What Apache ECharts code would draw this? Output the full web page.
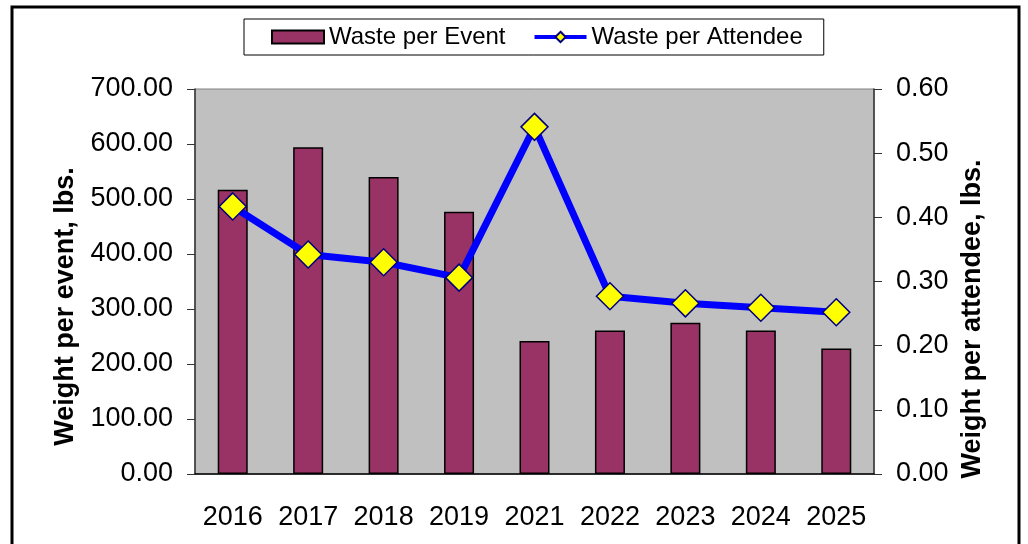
<!DOCTYPE html>
<html>
<head>
<meta charset="utf-8">
<title>Waste per Event / per Attendee</title>
<script src="https://cdn.jsdelivr.net/npm/echarts@6.0.0/dist/echarts.min.js"></script>
<style>
  html, body { margin: 0; padding: 0; background: #fff; }
  #chart { width: 1028px; height: 544px; }
</style>
</head>
<body>
<div id="chart"></div>
<script>
// data
const years = ["2016", "2017", "2018", "2019", "2021", "2022", "2023", "2024", "2025"];
const wastePerEvent = [517, 594, 540, 477, 242, 261, 275, 261, 228];
const wastePerAttendee = [0.417, 0.342, 0.33, 0.306, 0.541, 0.277, 0.266, 0.259, 0.252];

const FONT = "Liberation Sans, Arial, sans-serif";

const chart = echarts.init(document.getElementById("chart"));

const option = {
  backgroundColor: "#fff",
  animation: false,
  // outer chart frame
  graphic: [
    {
      type: "rect",
      silent: true,
      shape: { x: 12, y: 7, width: 1007, height: 600 },
      style: { fill: "none", stroke: "#000", lineWidth: 3 },
    },
  ],
  legend: {
    left: 244,
    top: 19,
    padding: [6, 21, 6, 27],
    itemGap: 27,
    itemWidth: 52,
    itemHeight: 13,
    borderColor: "#000",
    borderWidth: 1,
    textStyle: { fontFamily: FONT, fontSize: 24, color: "#000" },
    data: [
      { name: "Waste per Event", icon: "rect" },
      { name: "Waste per Attendee", lineStyle: { width: 4 } },
    ],
  },
  grid: {
    left: 195,
    right: 154,
    top: 89,
    bottom: 70,
    show: true,
    backgroundColor: "#C0C0C0",
    borderColor: "#808080",
    borderWidth: 1,
  },
  xAxis: {
    type: "category",
    data: years,
    axisLine: { lineStyle: { color: "#000", width: 1.5 } },
    axisTick: { length: 8, lineStyle: { color: "#000" } },
    axisLabel: { interval: 0, fontFamily: FONT, fontSize: 27, color: "#000", margin: 30 },
  },
  yAxis: [
    {
      type: "value",
      min: 0,
      max: 700,
      interval: 100,
      name: "Weight per event, lbs.",
      nameLocation: "middle",
      nameRotate: 90,
      nameGap: 111,
      nameTextStyle: {
        fontFamily: FONT,
        fontSize: 27,
        fontWeight: "bold",
        color: "#000",
        padding: [0, 50, 0, 0],
      },
      axisLine: { show: true, lineStyle: { color: "#333", width: 1.5 } },
      axisTick: { show: true, length: 8, lineStyle: { color: "#333" } },
      axisLabel: {
        fontFamily: FONT,
        fontSize: 27,
        color: "#000",
        margin: 22,
        formatter: (v) => v.toFixed(2),
      },
      splitLine: { show: false },
    },
    {
      type: "value",
      min: 0,
      max: 0.6,
      interval: 0.1,
      name: "Weight per attendee, lbs.",
      nameLocation: "middle",
      nameRotate: 90,
      nameGap: 79,
      nameTextStyle: {
        fontFamily: FONT,
        fontSize: 27,
        fontWeight: "bold",
        color: "#000",
        padding: [0, 75, 0, 0],
      },
      axisLine: { show: true, lineStyle: { color: "#333", width: 1.5 } },
      axisTick: { show: true, length: 8, lineStyle: { color: "#333" } },
      axisLabel: {
        fontFamily: FONT,
        fontSize: 27,
        color: "#000",
        margin: 22,
        formatter: (v) => v.toFixed(2),
      },
      splitLine: { show: false },
    },
  ],
  series: [
    {
      name: "Waste per Event",
      type: "bar",
      yAxisIndex: 0,
      data: wastePerEvent,
      barWidth: 30,
      itemStyle: { color: "#993366", borderColor: "#000", borderWidth: 1.5 },
    },
    {
      name: "Waste per Attendee",
      type: "line",
      yAxisIndex: 1,
      data: wastePerAttendee,
      symbol: "diamond",
      symbolSize: 27,
      lineStyle: { color: "#0000FF", width: 7 },
      itemStyle: { color: "#FFFF00", borderColor: "#000080", borderWidth: 1.5 },
      z: 3,
    },
  ],
};

chart.setOption(option);
</script>
</body>
</html>
